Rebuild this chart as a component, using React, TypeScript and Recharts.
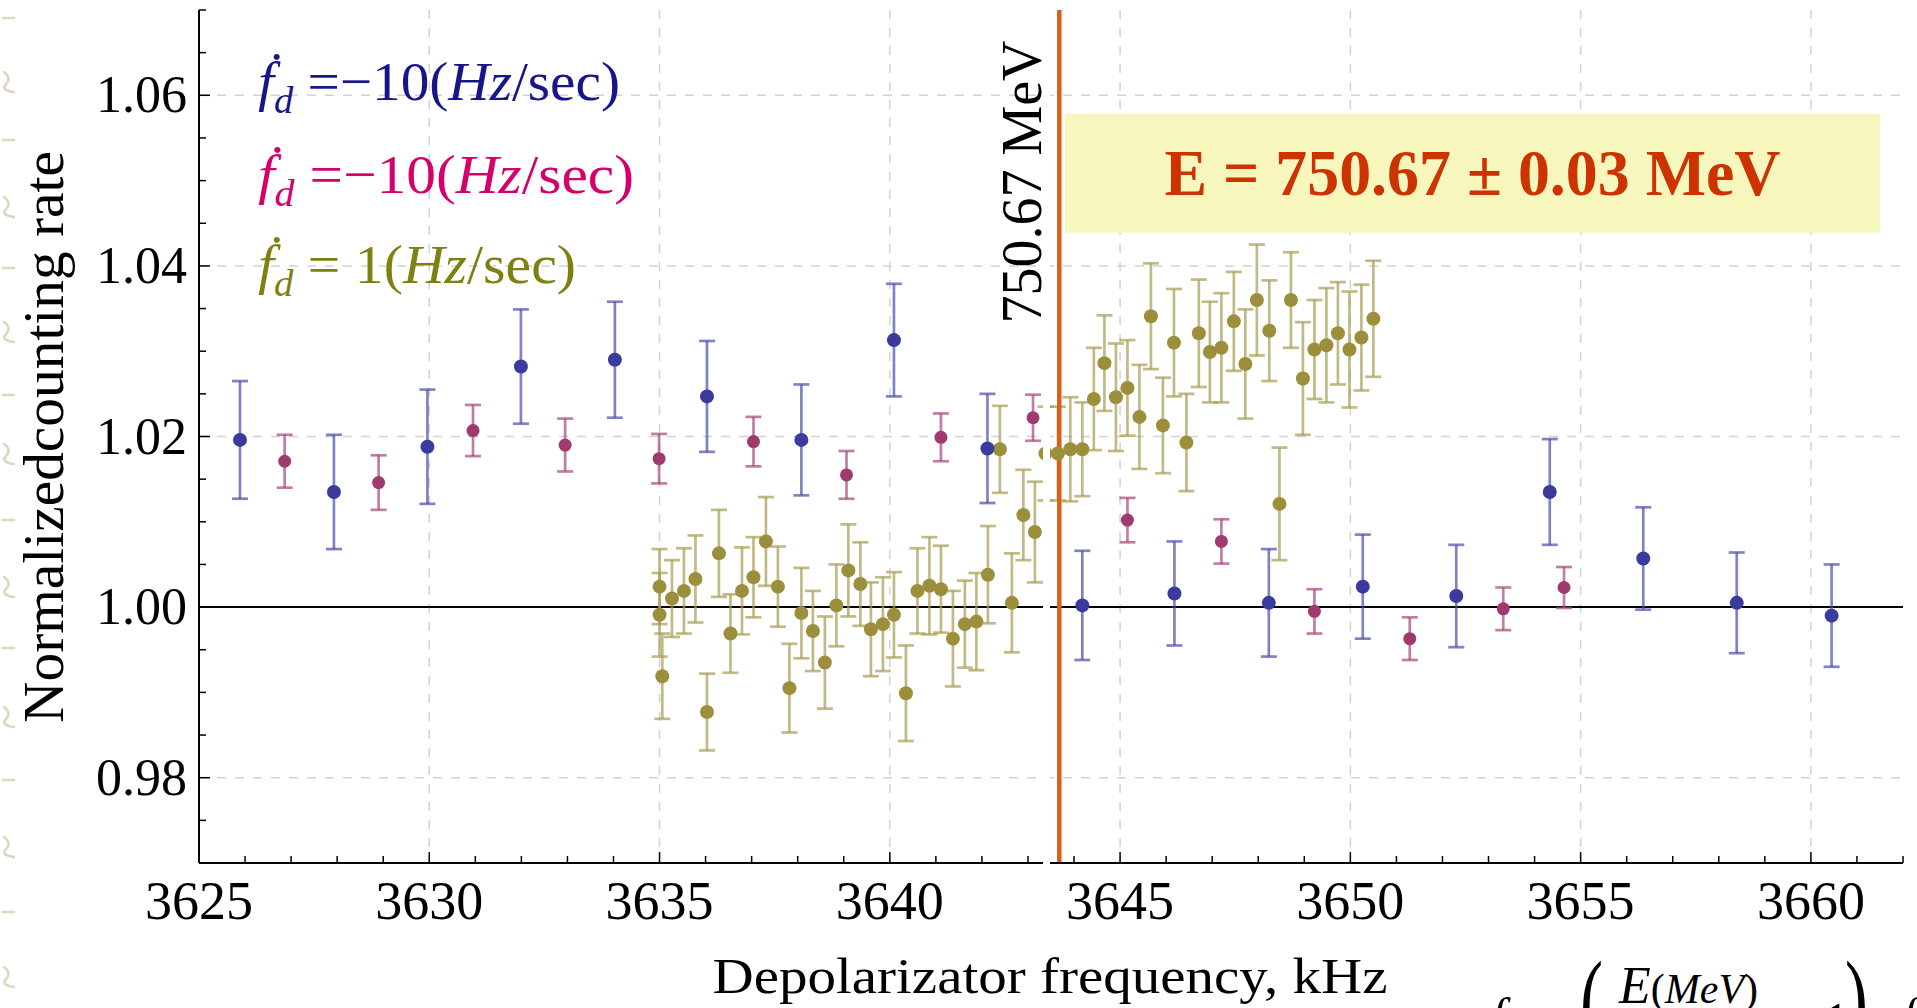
import React from "react";
import {
  ScatterChart,
  Scatter,
  XAxis,
  YAxis,
  CartesianGrid,
  ErrorBar,
  ReferenceLine,
  ReferenceArea,
} from "recharts";

// depolarizer sweep -10 Hz/sec (blue)
const BLUE_FREQ = [3625.89, 3627.93, 3629.96, 3631.99, 3634.03, 3636.03, 3638.08, 3640.09, 3642.12, 3644.18, 3646.18, 3648.23, 3650.27, 3652.3, 3654.33, 3656.36, 3658.39, 3660.45];
const BLUE_RATE = [1.0196, 1.0135, 1.0188, 1.0282, 1.029, 1.0247, 1.0196, 1.0313, 1.0186, 1.0002, 1.0016, 1.0005, 1.0024, 1.0013, 1.0135, 1.0057, 1.0005, 0.999];
const BLUE_ERR = [0.0069, 0.0067, 0.0067, 0.0067, 0.0068, 0.0065, 0.0065, 0.0066, 0.0064, 0.0064, 0.0061, 0.0063, 0.0061, 0.006, 0.0062, 0.006, 0.0059, 0.006];

// depolarizer sweep -10 Hz/sec (magenta)
const PINK_FREQ = [3626.86, 3628.9, 3630.95, 3632.95, 3634.99, 3637.04, 3639.06, 3641.11, 3643.11, 3645.16, 3647.2, 3649.22, 3651.29, 3653.32, 3654.64];
const PINK_RATE = [1.0171, 1.0146, 1.0207, 1.019, 1.0174, 1.0194, 1.0155, 1.0199, 1.0222, 1.0102, 1.0077, 0.9995, 0.9963, 0.9998, 1.0023];
const PINK_ERR = [0.0031, 0.0032, 0.003, 0.0031, 0.0029, 0.0029, 0.0028, 0.0028, 0.0027, 0.0026, 0.0026, 0.0026, 0.0025, 0.0025, 0.0024];

// depolarizer sweep +1 Hz/sec (olive)
const OLIVE_FREQ = [
  3635.0, 3635.0, 3635.06, 3635.27, 3635.53, 3635.78, 3636.03, 3636.29, 3636.54, 3636.79,
  3637.04, 3637.31, 3637.57, 3637.82, 3638.08, 3638.33, 3638.59, 3638.84, 3639.1, 3639.36,
  3639.59, 3639.85, 3640.09, 3640.35, 3640.6, 3640.86, 3641.11, 3641.37, 3641.63, 3641.88,
  3642.13, 3642.39, 3642.65, 3642.9, 3643.15, 3643.38, 3643.65, 3643.92, 3644.18, 3644.43,
  3644.66, 3644.91, 3645.16, 3645.42, 3645.67, 3645.93, 3646.17, 3646.44, 3646.71, 3646.95,
  3647.2, 3647.47, 3647.72, 3647.97, 3648.24, 3648.46, 3648.71, 3648.97, 3649.22, 3649.48,
  3649.73, 3649.98, 3650.24, 3650.5,
];
const OLIVE_RATE = [
  1.0024, 0.9991, 0.9919, 1.001, 1.0019, 1.0033, 0.9877, 1.0063, 0.9969, 1.0019,
  1.0035, 1.0077, 1.0024, 0.9905, 0.9993, 0.9972, 0.9935, 1.0002, 1.0043, 1.0027,
  0.9974, 0.998, 0.9991, 0.9899, 1.0019, 1.0025, 1.0021, 0.9963, 0.998, 0.9983,
  1.0038, 1.0185, 1.0005, 1.0108, 1.0088, 1.018, 1.018, 1.0185, 1.0185, 1.0244,
  1.0286, 1.0246, 1.0257, 1.0223, 1.0341, 1.0213, 1.031, 1.0193, 1.0321, 1.0299,
  1.0304, 1.0335, 1.0285, 1.036, 1.0324, 1.0121, 1.036, 1.0268, 1.0302, 1.0307,
  1.0321, 1.0302, 1.0316, 1.0338,
];
const OLIVE_ERR = [
  0.0044, 0.0049, 0.005, 0.0045, 0.005, 0.0051, 0.0045, 0.0051, 0.0046, 0.0051,
  0.0047, 0.0052, 0.0047, 0.0052, 0.0053, 0.0047, 0.0054, 0.0048, 0.0054, 0.0049,
  0.0055, 0.0055, 0.005, 0.0056, 0.005, 0.0057, 0.0051, 0.0056, 0.0051, 0.0057,
  0.0057, 0.0051, 0.0058, 0.0053, 0.0059, 0.0055, 0.0055, 0.0061, 0.0055, 0.006,
  0.0056, 0.0063, 0.0056, 0.0061, 0.0062, 0.0056, 0.0063, 0.0057, 0.0063, 0.0059,
  0.0064, 0.0058, 0.0064, 0.0065, 0.0059, 0.0066, 0.0056, 0.0066, 0.0058, 0.0067,
  0.006, 0.0068, 0.0062, 0.0068,
];

const X_LABELS = [3625, 3630, 3635, 3640, 3645, 3650, 3655, 3660];
const Y_LABELS = [0.98, 1.0, 1.02, 1.04, 1.06];
const X_GRID = [3630, 3635, 3640, 3645, 3650, 3655, 3660];
const Y_GRID = [0.98, 1.02, 1.04, 1.06];
const X_DOMAIN = [3625, 3662];
const Y_DOMAIN = [0.97, 1.07];

const RESONANCE_FREQ = 3643.68;
const RESONANCE_LABEL = "750.67 MeV";
const RESULT_TEXT = "E = 750.67 ± 0.03 MeV";
const RESULT_BOX = { x1: 3643.8, x2: 3661.5, y1: 1.0439, y2: 1.0578 };

const X_TICKS: number[] = [];
for (let v = X_DOMAIN[0]; v <= X_DOMAIN[1]; v++) X_TICKS.push(v);
const Y_TICKS: number[] = [];
for (let i = 0; i <= 20; i++) Y_TICKS.push(Math.round((0.97 + i * 0.005) * 1000) / 1000);

const toPoints = (xs: number[], ys: number[], es: number[]) =>
  xs.map((x, i) => ({ x, y: ys[i], err: es[i] }));

const blueData = toPoints(BLUE_FREQ, BLUE_RATE, BLUE_ERR);
const pinkData = toPoints(PINK_FREQ, PINK_RATE, PINK_ERR);
const oliveData = toPoints(OLIVE_FREQ, OLIVE_RATE, OLIVE_ERR);

const FONT = "'Liberation Serif', 'Times New Roman', 'DejaVu Serif', serif";
const W = 1917;
const H = 1008;

// faint marks of the slide background along the left edge
const EDGE_MARKS = [18, 80, 140, 205, 268, 330, 395, 452, 520, 585, 648, 715, 780, 845, 912, 975];

const isMajorX = (v: number) => X_LABELS.some((m) => Math.abs(m - v) < 1e-6);
const isMajorY = (v: number) => Y_LABELS.some((m) => Math.abs(m - v) < 1e-6);

function BottomTick(props: any) {
  const { x, y, payload } = props;
  const major = isMajorX(payload.value);
  return (
    <g>
      <line x1={x} x2={x} y1={y} y2={y - (major ? 11 : 7)} stroke="#000" strokeWidth={1.5} />
      {major && (
        <text x={x} y={y + 56} textAnchor="middle" fontFamily={FONT} fontSize={54} fill="#000">
          {payload.value}
        </text>
      )}
    </g>
  );
}

function TopTick(props: any) {
  const { x, y, payload } = props;
  const major = isMajorX(payload.value);
  return <line x1={x} x2={x} y1={y} y2={y + (major ? 11 : 7)} stroke="#000" strokeWidth={1.5} />;
}

function LeftTick(props: any) {
  const { x, y, payload } = props;
  const major = isMajorY(payload.value);
  return (
    <g>
      <line x1={x} x2={x + (major ? 11 : 7)} y1={y} y2={y} stroke="#000" strokeWidth={1.5} />
      {major && (
        <text x={x - 12} y={y + 17} textAnchor="end" fontFamily={FONT} fontSize={52} fill="#000">
          {payload.value.toFixed(2)}
        </text>
      )}
    </g>
  );
}

function RightTick(props: any) {
  const { x, y, payload } = props;
  const major = isMajorY(payload.value);
  return <line x1={x} x2={x - (major ? 11 : 7)} y1={y} y2={y} stroke="#000" strokeWidth={1.5} />;
}

const dot = (fill: string, r: number) => (props: any) =>
  <circle cx={props.cx} cy={props.cy} r={r} fill={fill} />;

function ResonanceLabel(props: any) {
  const { viewBox } = props;
  const x = viewBox.x - 18;
  const y = viewBox.y + 172;
  return (
    <text
      x={x}
      y={y}
      transform={`rotate(-90, ${x}, ${y})`}
      textAnchor="middle"
      fontFamily={FONT}
      fontSize={56}
      fill="#000"
    >
      {RESONANCE_LABEL}
    </text>
  );
}

function ResultLabel(props: any) {
  const { viewBox } = props;
  return (
    <text
      x={viewBox.x + viewBox.width / 2}
      y={viewBox.y + viewBox.height / 2 + 22}
      textAnchor="middle"
      fontFamily={FONT}
      fontWeight="bold"
      fontSize={66}
      textLength={616}
      lengthAdjust="spacingAndGlyphs"
      fill="#cc3300"
    >
      {RESULT_TEXT}
    </text>
  );
}

function LegendLine({ y, color, rate, len }: { y: number; color: string; rate: string; len: number }) {
  return (
    <text
      x={258}
      y={y}
      fontFamily={FONT}
      fontSize={55}
      fill={color}
      textLength={len}
      lengthAdjust="spacingAndGlyphs"
    >
      <tspan fontStyle="italic">ḟ</tspan>
      <tspan fontStyle="italic" fontSize={37} dy={13}>d</tspan>
      <tspan dy={-13}>{` =${rate}(`}</tspan>
      <tspan fontStyle="italic">Hz</tspan>
      <tspan>/sec)</tspan>
    </text>
  );
}

export default function App() {
  return (
    <div style={{ position: "relative", width: W, height: H, overflow: "hidden", background: "#fff" }}>
      <style>{"body{margin:0;overflow:hidden;}"}</style>
      <ScatterChart width={W} height={H} margin={{ top: 10, right: 14, bottom: 65, left: 49 }}>
        <CartesianGrid
          horizontalValues={Y_GRID}
          verticalValues={X_GRID}
          stroke="#d2d2d2"
          strokeWidth={1.5}
          strokeDasharray="9 9"
        />
        <XAxis
          dataKey="x"
          type="number"
          domain={X_DOMAIN}
          ticks={X_TICKS}
          interval={0}
          tickSize={0}
          tickMargin={0}
          tick={<BottomTick />}
          height={80}
          axisLine={{ stroke: "#000", strokeWidth: 2 }}
          allowDataOverflow
        />
        <XAxis
          xAxisId="top"
          orientation="top"
          dataKey="x"
          type="number"
          domain={X_DOMAIN}
          ticks={X_TICKS}
          interval={0}
          tickSize={0}
          tickMargin={0}
          tick={<TopTick />}
          height={0}
          axisLine={{ stroke: "#000", strokeWidth: 2 }}
          allowDataOverflow
        />
        <YAxis
          dataKey="y"
          type="number"
          domain={Y_DOMAIN}
          ticks={Y_TICKS}
          interval={0}
          tickSize={0}
          tickMargin={0}
          tick={<LeftTick />}
          width={150}
          axisLine={{ stroke: "#000", strokeWidth: 2 }}
          allowDataOverflow
        />
        <YAxis
          yAxisId="right"
          orientation="right"
          dataKey="y"
          type="number"
          domain={Y_DOMAIN}
          ticks={Y_TICKS}
          interval={0}
          tickSize={0}
          tickMargin={0}
          tick={<RightTick />}
          width={0}
          axisLine={{ stroke: "#000", strokeWidth: 2 }}
          allowDataOverflow
        />
        <ReferenceArea
          x1={RESULT_BOX.x1}
          x2={RESULT_BOX.x2}
          y1={RESULT_BOX.y1}
          y2={RESULT_BOX.y2}
          fill="#f7f6bd"
          fillOpacity={1}
          stroke="none"
          label={<ResultLabel />}
        />
        <ReferenceLine y={1} stroke="#000" strokeWidth={2} />
        <Scatter data={oliveData} shape={dot("#9c8f3c", 7)} isAnimationActive={false}>
          <ErrorBar dataKey="err" direction="y" width={8} strokeWidth={2.7} stroke="#a89c52" strokeOpacity={0.7} isAnimationActive={false} />
        </Scatter>
        <Scatter data={pinkData} shape={dot("#9e3a6e", 6.5)} isAnimationActive={false}>
          <ErrorBar dataKey="err" direction="y" width={8} strokeWidth={2.7} stroke="#a8467a" strokeOpacity={0.7} isAnimationActive={false} />
        </Scatter>
        <Scatter data={blueData} shape={dot("#3b3b9e", 7)} isAnimationActive={false}>
          <ErrorBar dataKey="err" direction="y" width={8} strokeWidth={2.7} stroke="#4b4bae" strokeOpacity={0.7} isAnimationActive={false} />
        </Scatter>
        <ReferenceLine
          x={RESONANCE_FREQ}
          stroke="#d95f1b"
          strokeWidth={4.5}
          label={<ResonanceLabel />}
        />
      </ScatterChart>
      <svg
        width={W}
        height={H}
        style={{ position: "absolute", left: 0, top: 0, pointerEvents: "none" }}
      >
        {/* seam between the two joined plot panels */}
        <rect x={1043} y={0} width={7} height={870} fill="#fff" />
        <g stroke="#ddd7bf" strokeWidth={2.5} fill="none" strokeLinecap="round">
          {EDGE_MARKS.map((m, i) => (
            <path
              key={m}
              d={
                i % 2 === 0
                  ? `M3 ${m} L14 ${m}`
                  : `M4 ${m - 8} Q12 ${m - 2} 6 ${m + 4} T14 ${m + 12}`
              }
            />
          ))}
        </g>
        <LegendLine y={100} color="#16168a" rate="−10" len={362} />
        <LegendLine y={193} color="#d4006c" rate="−10" len={376} />
        <LegendLine y={283} color="#7f7f12" rate=" 1" len={318} />
        <text
          x={44}
          y={437}
          transform="rotate(-90, 44, 437)"
          textAnchor="middle"
          dominantBaseline="central"
          fontFamily={FONT}
          fontSize={56}
          textLength={572}
          lengthAdjust="spacingAndGlyphs"
          fill="#000"
        >
          Normalizedcounting rate
        </text>
        <text
          x={1050}
          y={993}
          textAnchor="middle"
          fontFamily={FONT}
          fontSize={50}
          textLength={675}
          lengthAdjust="spacingAndGlyphs"
          fill="#000"
        >
          Depolarizator frequency, kHz
        </text>
        <g fontFamily={FONT} fill="#000">
          <text x={1491} y={1033} fontSize={50} fontStyle="italic">f</text>
          <text transform="translate(1580, 1040) scale(0.75, 1.25)" fontSize={92}>(</text>
          <text x={1619} y={1003} fontSize={52}>
            <tspan fontStyle="italic">E</tspan>
            <tspan fontSize={42}>(</tspan>
            <tspan fontStyle="italic" fontSize={42}>MeV</tspan>
            <tspan fontSize={42}>)</tspan>
          </text>
          <text x={1824} y={1037} fontSize={50}>1</text>
          <text transform="translate(1845, 1040) scale(0.75, 1.25)" fontSize={92}>)</text>
          <text x={1902} y={1033} fontSize={50} fontStyle="italic">f</text>
        </g>
      </svg>
    </div>
  );
}
